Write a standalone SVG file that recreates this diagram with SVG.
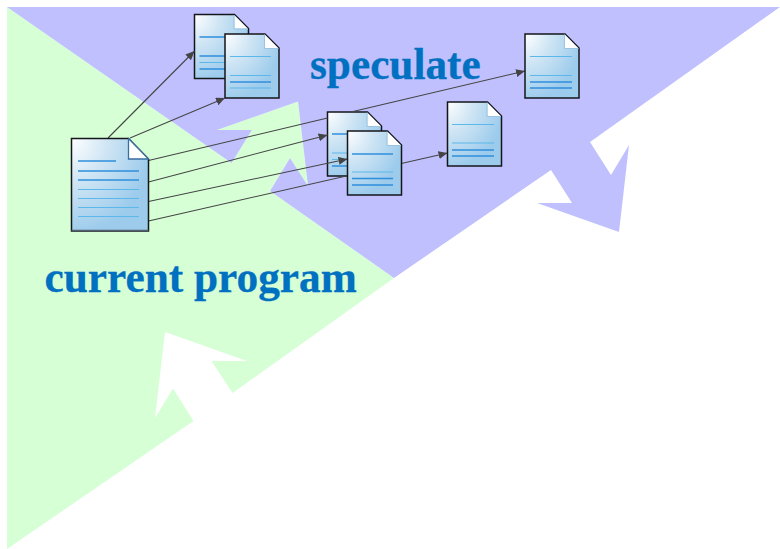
<svg xmlns="http://www.w3.org/2000/svg" width="780" height="549" viewBox="0 0 780 549">
<style>
.lt{stroke:#5cb8ea;stroke-width:1.2;fill:none}
.dk{stroke:#2f8fdc;stroke-width:1.4;fill:none}
.body{fill:url(#paper);stroke:#14161a;stroke-width:1.5;stroke-linejoin:miter}
.fold{fill:#fff;stroke:none}
.foldb{fill:#fff;stroke:#3a6ea0;stroke-width:1.3}
.conn{stroke:#444;stroke-width:1.1;fill:none}
.lbl{font-family:"Liberation Serif","Times New Roman",serif;font-weight:bold;fill:#0070c0;stroke:#0070c0;stroke-width:.3}
</style>
<defs>
<radialGradient id="paper" gradientUnits="objectBoundingBox" cx="0" cy="0" r="1.05">
<stop offset="0" stop-color="#ffffff"/>
<stop offset="0.45" stop-color="#cfe5f4"/>
<stop offset="1" stop-color="#9ccbec"/>
</radialGradient>
<marker id="arr" markerUnits="userSpaceOnUse" markerWidth="10" markerHeight="9" refX="9" refY="4" orient="auto">
<path d="M0 0L9 4L0 8Z" fill="#444"/>
</marker>
<g id="small">
<path class="body" d="M0 0H40L54 14V64H0Z"/>
<path class="fold" d="M40 .8L53.200 14H40Z"/>
<path d="M39.500 .5V14.500H53.500" fill="none" stroke="#9cc4e0" stroke-width="1"/>
</g>
</defs>
<rect width="780" height="549" fill="#fff"/>
<path id="green-area" fill="#d6ffd6" d="M7 7L231.500 163L252 130H217L298 101.500L308 186L290 158L270 191L394 278L232.500 393L211.500 361L247 361L165 332L155 418L173 388.500L193.500 421L7 549Z"/>
<path id="blue-area" fill="#c0c0ff" d="M7 7H780L590 142L611 175L629 145L619 232L537 203H572L551 170L394 278L270 191L290 158L308 186L298 101.500L217 130H252L231.500 163Z"/>
<g id="doc-a"><use href="#small" x="194.500" y="14.500"/>
<path class="dk" d="M199.500 37H244.500M199.500 56H244.500"/><path class="lt" d="M199.500 62.500H244.500"/><path class="dk" d="M199.500 69H244.500"/></g>
<g id="doc-b"><use href="#small" x="225" y="34"/>
<path class="lt" d="M230 56.500H271M230 75.500H271M230 88H271"/><path class="dk" d="M230 82H271"/></g>
<g id="doc-c"><use href="#small" x="327.500" y="112"/>
<path class="dk" d="M332 134H373"/><path class="lt" d="M332 153H373M332 159.500H373"/><path class="dk" d="M332 166H373"/></g>
<g id="connectors">
<path class="conn" marker-end="url(#arr)" d="M108 138L194.500 51"/>
<path class="conn" marker-end="url(#arr)" d="M130 138L225 98"/>
<path class="conn" d="M148.500 160.500L327.500 118"/>
<path class="conn" marker-end="url(#arr)" d="M353 111.500L525 71"/>
<path class="conn" marker-end="url(#arr)" d="M148.500 182L327.500 135"/>
<path class="conn" marker-end="url(#arr)" d="M148.500 201.500L347.500 159"/>
<path class="conn" marker-end="url(#arr)" d="M148.500 221L447.500 153"/>
</g>
<g id="doc-c2"><use href="#small" x="347.500" y="131"/>
<path class="dk" d="M352 154H393"/><path class="lt" d="M352 172H393"/><path class="dk" d="M352 178.500H393M352 185H393"/></g>
<g id="doc-d"><use href="#small" x="447.500" y="102"/>
<path class="lt" d="M452 124.500H494M452 143H494"/><path class="dk" d="M452 150H494M452 156H494"/></g>
<g id="doc-e"><use href="#small" x="525" y="34"/>
<path class="lt" d="M530 56.500H572M530 75.500H572"/><path class="dk" d="M530 82H572M530 88H572"/></g>
<g id="doc-main">
<path class="body" d="M71.500 138.500H128.500L148.500 159V231H71.500Z"/>
<path class="foldb" d="M128.500 138.500L148.500 159H128.500Z"/>
<path d="M71.500 230.500H148.500" stroke="#50606c" stroke-width="1.500"/>
<path class="dk" d="M78 161H116M78 171H139M78 180H139"/>
<path class="lt" d="M78 189.500H139M78 198.500H139M78 207.500H139M78 216.500H139"/>
</g>
<text id="label-speculate" class="lbl" x="310" y="79" font-size="43.300">speculate</text>
<text id="label-current" class="lbl" x="44.500" y="292" font-size="43.300">current program</text>
</svg>
